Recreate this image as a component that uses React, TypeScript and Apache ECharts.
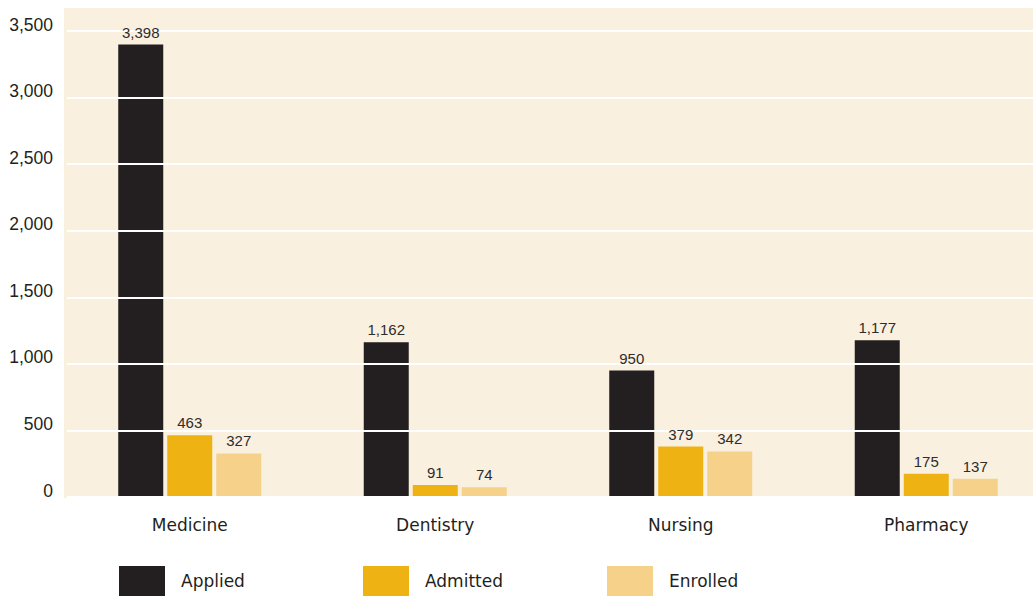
import React, { useEffect, useRef } from "react";
import * as echarts from "echarts";

const categories = ["Medicine", "Dentistry", "Nursing", "Pharmacy"];
const seriesNames = ["Applied", "Admitted", "Enrolled"];
const applied = [3398, 1162, 950, 1177];
const admitted = [463, 91, 379, 175];
const enrolled = [327, 74, 342, 137];
const seriesColors = ["#231f20", "#eeb212", "#f6d18a"];
const yMax = 3500;
const yInterval = 500;

const seriesValues = [applied, admitted, enrolled];
const legendLefts = [119, 363, 607];

export default function App() {
  const ref = useRef<HTMLDivElement>(null);
  useEffect(() => {
    if (!ref.current) return;
    const chart = echarts.init(ref.current, null, { renderer: "svg" });
    const wordFont = "DejaVu Sans";
    const numFont = "Liberation Sans";
    const barSeries = seriesNames.map((n, i) => ({
      name: n,
      type: "bar",
      data: seriesValues[i],
      barWidth: 45,
      barGap: "8.9%",
      z: 2,
      itemStyle: { color: seriesColors[i] },
    }));
    const labelSeries = seriesNames.map((n, i) => ({
      name: n + " label",
      type: "bar",
      xAxisIndex: 1,
      data: seriesValues[i],
      barWidth: 45,
      barGap: "8.9%",
      z: 6,
      silent: true,
      itemStyle: { color: "rgba(0,0,0,0)" },
      label: {
        show: true,
        position: "top",
        distance: 5,
        fontFamily: numFont,
        fontSize: 15,
        color: "#2f2c2c",
        formatter: (p: any) => Number(p.value).toLocaleString("en-US"),
      },
    }));
    chart.setOption({
      animation: false,
      backgroundColor: "#ffffff",
      graphic: {
        elements: [
          {
            type: "rect",
            z: -10,
            shape: { x: 64, y: 8, width: 969, height: 490 },
            style: { fill: "#faf0e0" },
            silent: true,
          },
        ],
      },
      grid: {
        left: 67,
        top: 31,
        width: 982,
        height: 466,
        containLabel: false,
        outerBoundsMode: "none",
      },
      legend: seriesNames.map((n, i) => ({
        data: [n],
        left: legendLefts[i],
        top: 566,
        padding: 0,
        itemWidth: 46,
        itemHeight: 30,
        icon: "rect",
        textStyle: {
          fontFamily: wordFont,
          fontSize: 17,
          color: "#231f20",
          padding: [4, 0, 0, 11],
        },
        selectedMode: false,
      })),
      xAxis: [
        {
          type: "category",
          data: categories,
          axisLine: { show: false },
          axisTick: { show: false },
          axisLabel: {
            fontFamily: wordFont,
            fontSize: 17,
            color: "#231f20",
            margin: 19,
          },
        },
        {
          type: "category",
          data: categories,
          show: false,
        },
      ],
      yAxis: {
        type: "value",
        min: 0,
        max: yMax,
        interval: yInterval,
        z: 3,
        axisLine: { show: false },
        axisTick: { show: false },
        splitLine: { show: true, lineStyle: { color: "#ffffff", width: 2 } },
        axisLabel: {
          fontFamily: numFont,
          fontSize: 17.5,
          color: "#231f20",
          margin: 14,
          verticalAlign: "bottom",
          lineHeight: 13,
          formatter: (v: number) => v.toLocaleString("en-US"),
        },
      },
      series: [...barSeries, ...labelSeries],
    });
    return () => chart.dispose();
  }, []);
  return (
    <div
      ref={ref}
      style={{ position: "fixed", left: 0, top: 0, width: 1033, height: 597 }}
    />
  );
}
